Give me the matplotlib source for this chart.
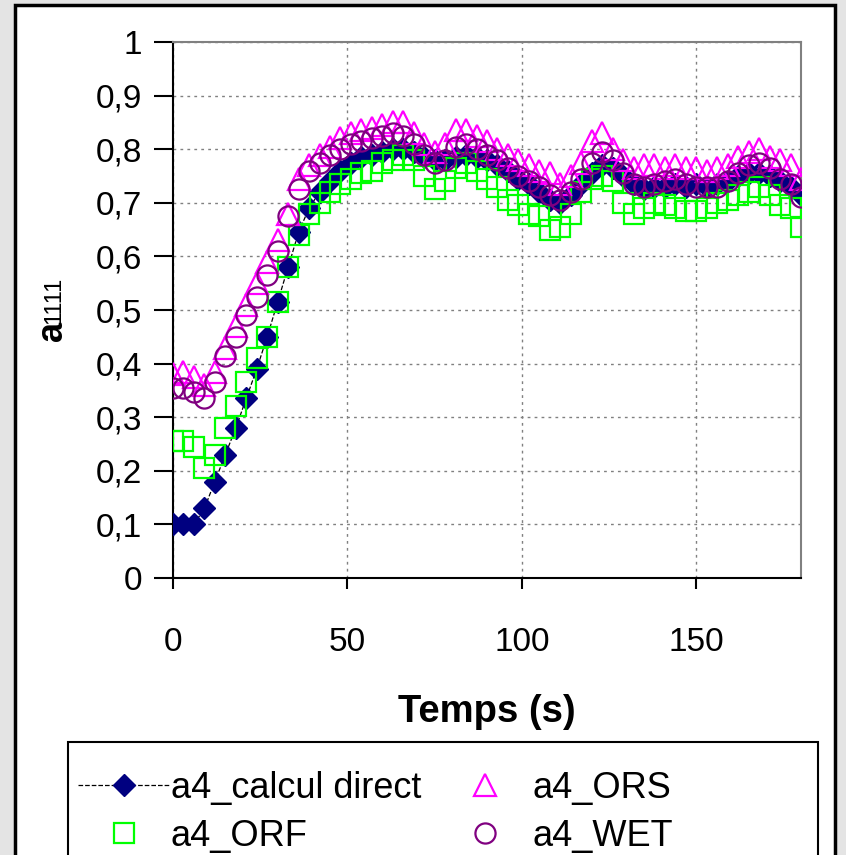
import numpy as np
import matplotlib.pyplot as plt
from matplotlib.patches import Rectangle

plt.rcParams['font.family'] = ['Liberation Sans', 'DejaVu Sans']

# temps (s), un point toutes les 3 s
temps = np.arange(0, 181, 3)

calcul_direct = [0.10, 0.10, 0.10, 0.13, 0.18, 0.23, 0.28, 0.335, 0.39, 0.45,
                 0.515, 0.58, 0.645, 0.69, 0.72, 0.74, 0.76, 0.775, 0.785, 0.79,
                 0.795, 0.80, 0.80, 0.795, 0.785, 0.78, 0.78, 0.785, 0.79, 0.785,
                 0.78, 0.77, 0.76, 0.745, 0.735, 0.72, 0.705, 0.70, 0.715, 0.735,
                 0.755, 0.77, 0.765, 0.75, 0.735, 0.725, 0.73, 0.73, 0.735, 0.73,
                 0.735, 0.73, 0.735, 0.74, 0.75, 0.755, 0.755, 0.75, 0.74, 0.73,
                 0.715]

orf = [0.255, 0.255, 0.245, 0.205, 0.23, 0.28, 0.32, 0.365, 0.41, 0.45,
       0.515, 0.58, 0.64, 0.68, 0.70, 0.72, 0.735, 0.745, 0.755, 0.76,
       0.775, 0.78, 0.79, 0.78, 0.75, 0.725, 0.74, 0.765, 0.775, 0.76,
       0.745, 0.73, 0.705, 0.695, 0.68, 0.675, 0.65, 0.655, 0.68, 0.72,
       0.745, 0.75, 0.74, 0.70, 0.68, 0.69, 0.70, 0.695, 0.69, 0.685,
       0.685, 0.69, 0.70, 0.705, 0.715, 0.72, 0.73, 0.715, 0.695, 0.69,
       0.655]

ors = [0.38, 0.385, 0.375, 0.36, 0.385, 0.43, 0.47, 0.51, 0.55, 0.59,
       0.63, 0.68, 0.745, 0.77, 0.79, 0.805, 0.82, 0.83, 0.835, 0.84,
       0.845, 0.85, 0.85, 0.83, 0.81, 0.795, 0.81, 0.835, 0.835, 0.825,
       0.815, 0.80, 0.79, 0.78, 0.77, 0.76, 0.755, 0.735, 0.75, 0.775,
       0.815, 0.83, 0.80, 0.78, 0.765, 0.77, 0.77, 0.765, 0.77, 0.765,
       0.765, 0.76, 0.765, 0.77, 0.785, 0.795, 0.80, 0.785, 0.78, 0.77,
       0.745]

wet = [0.355, 0.355, 0.347, 0.336, 0.365, 0.415, 0.45, 0.49, 0.525, 0.565,
       0.61, 0.675, 0.725, 0.76, 0.775, 0.79, 0.80, 0.81, 0.815, 0.82,
       0.825, 0.83, 0.825, 0.81, 0.79, 0.775, 0.78, 0.805, 0.81, 0.80,
       0.79, 0.78, 0.765, 0.75, 0.74, 0.73, 0.715, 0.705, 0.72, 0.745,
       0.775, 0.795, 0.78, 0.755, 0.735, 0.73, 0.735, 0.74, 0.745, 0.735,
       0.73, 0.73, 0.73, 0.74, 0.755, 0.77, 0.775, 0.765, 0.745, 0.735,
       0.71]

yticks = np.arange(0, 1.01, 0.1)
ytick_labels = ['0', '0,1', '0,2', '0,3', '0,4', '0,5', '0,6', '0,7', '0,8', '0,9', '1']
xticks = [0, 50, 100, 150]

fig = plt.figure(figsize=(8.46, 8.55), dpi=100, facecolor='#e4e4e4')

# cadre blanc du graphique (derriere tout)
fig.patches.append(Rectangle((15/846, -0.05), 820/846, 1.05 - 5/855,
                             transform=fig.transFigure, facecolor='white',
                             edgecolor='black', linewidth=2.5, zorder=-2))
# cadre de la legende
fig.patches.append(Rectangle((68/846, -0.05), 750/846, 0.05 + 1 - 742/855,
                             transform=fig.transFigure, facecolor='white',
                             edgecolor='black', linewidth=1.5, zorder=-1))

ax = fig.add_axes([173/846, 1 - 578/855, 628/846, 536/855])

ax.plot(temps, calcul_direct, linestyle='--', color='black', linewidth=0.9,
        marker='D', markersize=11.5, markerfacecolor='#000080',
        markeredgecolor='#000080', label='a4_calcul direct', zorder=3)
ax.plot(temps, orf, linestyle='none', marker='s', markersize=14.5,
        markerfacecolor='none', markeredgecolor='#00ff00', markeredgewidth=1.6,
        label='a4_ORF', zorder=4)
ax.plot(temps, ors, linestyle='none', marker='^', markersize=15.5,
        markerfacecolor='none', markeredgecolor='#ff00ff', markeredgewidth=1.6,
        label='a4_ORS', zorder=5)
ax.plot(temps, wet, linestyle='none', marker='o', markersize=14.5,
        markerfacecolor='none', markeredgecolor='#800080', markeredgewidth=1.6,
        label='a4_WET', zorder=6)

ax.set_xlim(0, 180)
ax.set_ylim(0, 1)
ax.set_yticks(yticks)
ax.set_yticklabels(ytick_labels)
ax.set_xticks(xticks)
ax.grid(True, linestyle=(0, (2, 3)), color='#808080', linewidth=1)
ax.set_axisbelow(True)

for s in ['top', 'right']:
    ax.spines[s].set_color('#808080')
    ax.spines[s].set_linewidth(1.5)
for s in ['left', 'bottom']:
    ax.spines[s].set_color('black')
    ax.spines[s].set_linewidth(1.5)

ax.tick_params(axis='y', length=14, width=1.5, pad=8, labelsize=24)
ax.tick_params(axis='x', length=8, width=1.5, pad=27, labelsize=24)

ax.set_xlabel('Temps (s)', fontsize=27.5, fontweight='bold', labelpad=26)

# label y : "a" gras + "1111" plus petit
fig.text(52/846, 1 - 331/855, 'a', rotation=90, fontsize=26, fontweight='bold',
         ha='center', va='center', family='Liberation Sans')
fig.text(54/846, 1 - 300/855, '1111', rotation=90, fontsize=17,
         ha='center', va='center', family='Liberation Sans')

fig.legend(loc='upper left', bbox_to_anchor=(78/846, 1 - 771/855), ncol=2,
           frameon=False, fontsize=26, handlelength=2.55, handletextpad=0.02,
           columnspacing=0.5, labelspacing=0.35, borderpad=0, borderaxespad=0)

fig.savefig('out.png', dpi=100, facecolor=fig.get_facecolor())
